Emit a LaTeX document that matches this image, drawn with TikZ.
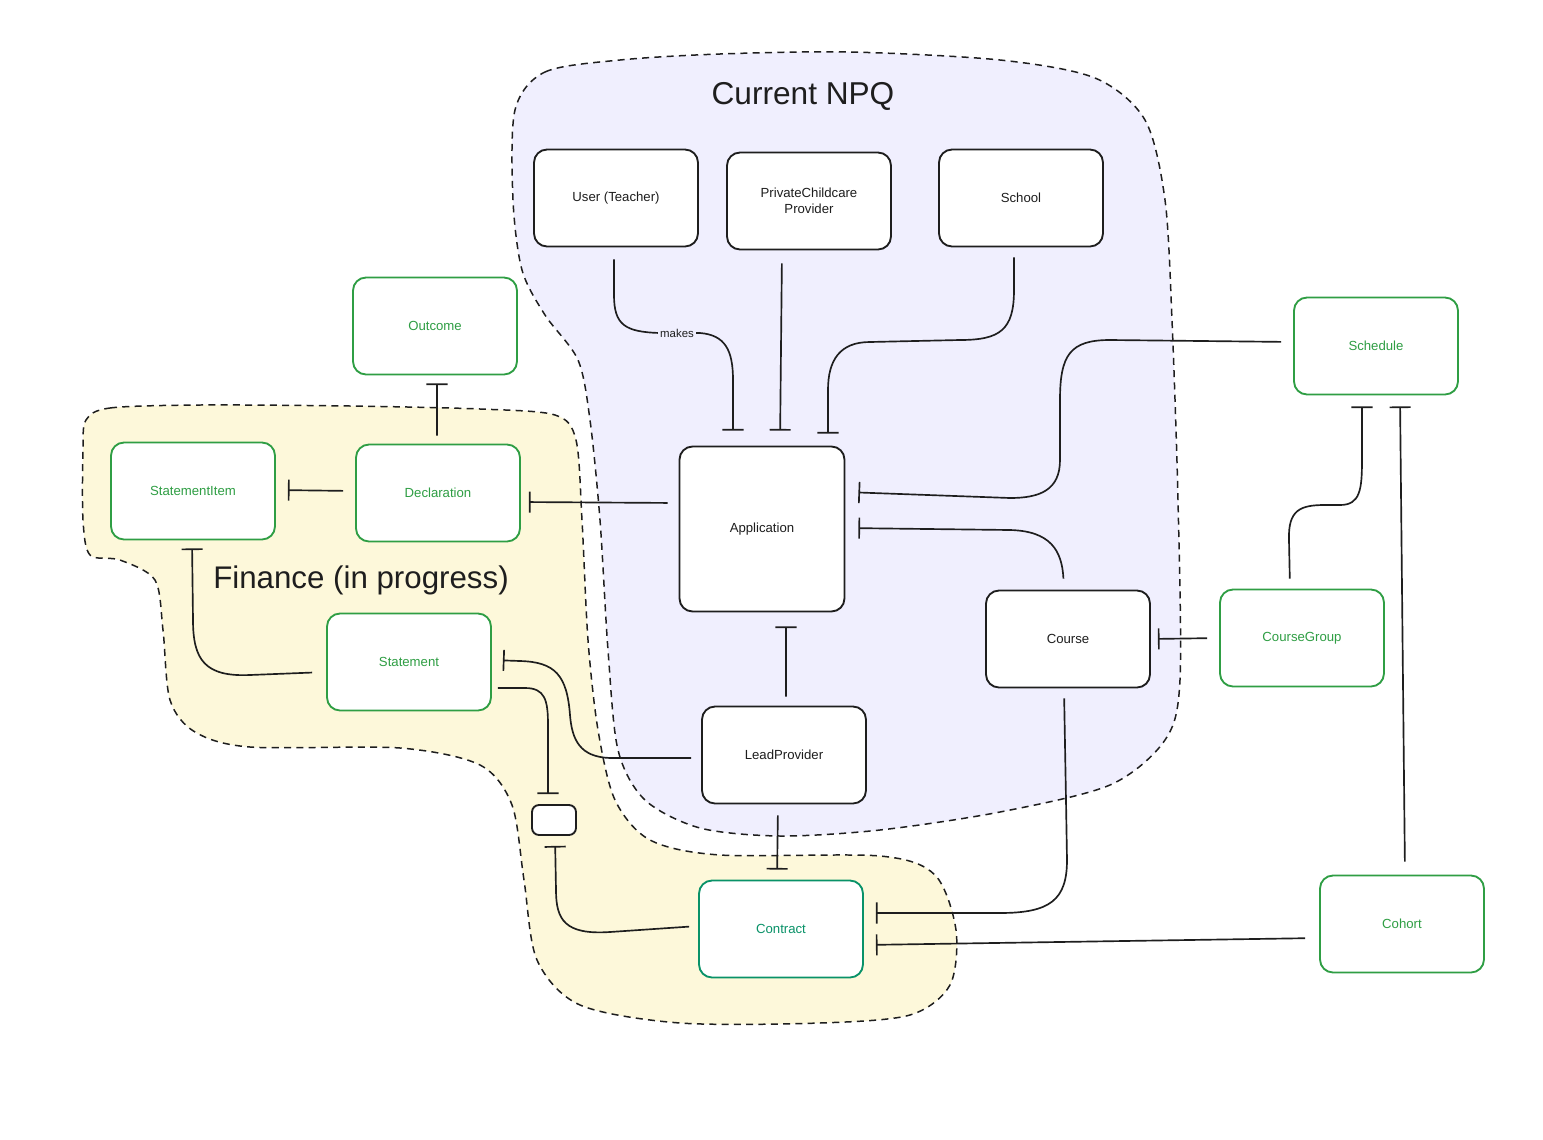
\documentclass[tikz,border=0pt]{standalone}
\usepackage{fontspec}
\setmainfont{Liberation Sans}
\usetikzlibrary{arrows.meta}
\definecolor{ink}{HTML}{1E1E1E}
\definecolor{grn}{HTML}{2F9E44}
\definecolor{teal2}{HTML}{099268}
\definecolor{lav}{HTML}{F0EFFE}
\definecolor{yel}{HTML}{FDF8DA}
\begin{document}
\begin{tikzpicture}[x=0.02cm,y=-0.02cm,
  box/.style={draw=ink, line width=1.05pt, rounded corners=0.26cm, fill=white,
    minimum width=3.28cm, minimum height=1.94cm, align=center,
    font=\fontsize{7.5}{9}\selectfont, text=ink, inner sep=2pt},
  gbox/.style={box, draw=grn, text=grn},
  tbox/.style={box, draw=teal2, text=teal2},
  rel/.style={draw=ink, line width=0.95pt, -{Bar[width=12pt]}},
  region/.style={draw=ink, line width=0.85pt, dash pattern=on 4pt off 3pt}]
\useasboundingbox (0,0) rectangle (1543,1140);
\fill[white] (0,0) rectangle (1543,1140);

% Finance region
\draw[region, fill=yel] plot[smooth cycle, tension=0.5] coordinates {
  (86,420) (110,408) (200,405) (350,406) (480,409) (555,415) (576,440)
  (582,520) (588,640) (598,730) (615,800) (650,840) (720,855) (880,856)
  (935,875) (956,930) (950,985) (910,1015) (820,1023) (680,1023) (580,1005)
  (537,960) (524,880) (512,805) (480,765) (400,748) (250,747) (195,732)
  (170,700) (163,630) (155,580) (120,560) (90,555) (83,520) (83,450)};

% Current NPQ region
\draw[region, fill=lav] plot[smooth cycle, tension=0.5] coordinates {
  (515,110) (545,72) (620,60) (720,54) (850,52) (1000,60) (1095,78)
  (1145,120) (1165,200) (1172,320) (1178,500) (1180,680) (1165,740)
  (1110,785) (1000,812) (880,830) (780,836) (700,828) (645,800) (618,750)
  (608,650) (600,520) (590,420) (578,360) (545,315) (522,270) (513,200)};

\node[font=\fontsize{18}{20}\selectfont, text=ink] (titleA) at (803,96) {Current NPQ};
\node[font=\fontsize{17.8}{20}\selectfont, text=ink] (titleB) at (361,580) {Finance (in progress)};

% boxes
\node[box] (user) at (616,198) {User (Teacher)};
\node[box] (pcp) at (809,201) {PrivateChildcare\\Provider};
\node[box] (school) at (1021,198) {School};
\node[gbox] (outcome) at (435,326) {Outcome};
\node[gbox] (schedule) at (1376,346) {Schedule};
\node[gbox] (stmtitem) at (193,491) {StatementItem};
\node[gbox] (decl) at (438,493) {Declaration};
\node[box, minimum width=3.3cm, minimum height=3.3cm] (app) at (762,529) {Application};
\node[box] (course) at (1068,639) {Course};
\node[gbox] (cgroup) at (1302,638) {CourseGroup};
\node[gbox] (stmt) at (409,662) {Statement};
\node[box] (lead) at (784,755) {LeadProvider};
\node[box, minimum width=0.88cm, minimum height=0.6cm, rounded corners=0.14cm] (small) at (554,820) {};
\node[tbox] (contract) at (781,929) {Contract};
\node[gbox] (cohort) at (1402,924) {Cohort};

% connectors
\draw[rel, shorten <=0.24cm, shorten >=0.3cm] ([xshift=-0.04cm]user.south) -- (614,295)
  .. controls (614,325) and (625,332) .. (660,333) -- (700,333)
  .. controls (725,335) and (733,350) .. (733,380) -- ([xshift=-0.58cm]app.north);
\node[fill=lav, inner sep=1pt, font=\fontsize{6.5}{8}\selectfont, text=ink] (makes) at (677,333) {makes};

\draw[rel, shorten <=0.26cm, shorten >=0.3cm] ([xshift=-0.54cm]pcp.south) -- ([xshift=0.36cm]app.north);

\draw[rel, shorten <=0.2cm, shorten >=0.24cm] ([xshift=-0.14cm]school.south) -- (1014,290)
  .. controls (1014,330) and (1000,340) .. (960,340) -- (870,342)
  .. controls (840,342) and (828,360) .. (828,390) -- ([xshift=1.32cm]app.north);

\draw[rel, shorten <=0.24cm, shorten >=0.26cm] ([yshift=0.08cm]schedule.west) -- (1110,340)
  .. controls (1070,340) and (1060,355) .. (1060,400) -- (1060,460)
  .. controls (1060,490) and (1040,498) .. (1010,498) -- ([yshift=0.74cm]app.east);

\draw[rel, shorten <=0.22cm, shorten >=0.26cm] ([xshift=-0.08cm]course.north)
  .. controls (1062,550) and (1050,531) .. (1010,530) -- ([yshift=0.02cm]app.east);

\draw[rel, shorten <=0.24cm, shorten >=0.14cm] (cgroup.west) -- (course.east);

\draw[rel, shorten <=0.2cm, shorten >=0.22cm] ([xshift=-0.24cm]cgroup.north) -- (1289,540)
  .. controls (1288,510) and (1300,505) .. (1325,505) -- (1340,505)
  .. controls (1360,505) and (1362,490) .. (1362,460) -- ([xshift=-0.28cm]schedule.south);

\draw[rel, shorten <=0.26cm, shorten >=0.22cm] ([xshift=0.06cm]cohort.north) -- ([xshift=0.48cm]schedule.south);

\draw[rel, shorten <=0.28cm, shorten >=0.24cm] ([yshift=-0.28cm]cohort.west) -- ([yshift=-0.32cm]contract.east);

\draw[rel, shorten <=0.2cm, shorten >=0.24cm] ([xshift=-0.08cm]course.south) -- (1066,800) -- (1067,860)
  .. controls (1067,900) and (1050,913) .. (1000,913) -- ([yshift=0.32cm]contract.east);

\draw[rel, shorten <=0.18cm, shorten >=0.28cm] ([xshift=0.04cm]lead.north) -- ([xshift=0.48cm]app.south);

\draw[rel, shorten <=0.22cm, shorten >=0.2cm] ([xshift=-0.12cm]lead.south) -- ([xshift=-0.08cm]contract.north);

\draw[rel, shorten <=0.2cm, shorten >=0.22cm] ([yshift=-0.06cm]lead.west) -- (610,758)
  .. controls (580,757) and (572,740) .. (570,715)
  .. controls (567,675) and (555,662) .. (520,661) -- ([yshift=0.04cm]stmt.east);

\draw[rel, shorten <=0.12cm, shorten >=0.2cm] ([yshift=-0.52cm]stmt.east) -- (525,688)
  .. controls (545,688) and (548,700) .. (548,725) -- ([xshift=-0.12cm]small.north);

\draw[rel, shorten <=0.18cm, shorten >=0.2cm] ([yshift=0.06cm]contract.west) -- (610,932)
  .. controls (565,935) and (556,920) .. (556,890) -- ([xshift=0.02cm]small.south);

\draw[rel, shorten <=0.28cm, shorten >=0.16cm] ([yshift=-0.2cm]stmt.west) -- (250,675)
  .. controls (205,677) and (193,660) .. (193,620) -- ([xshift=-0.02cm]stmtitem.south);

\draw[rel, shorten <=0.24cm, shorten >=0.24cm] ([yshift=0.04cm]decl.west) -- ([yshift=0.02cm]stmtitem.east);

\draw[rel, shorten <=0.16cm, shorten >=0.16cm] ([xshift=-0.02cm]decl.north) -- ([xshift=0.04cm]outcome.south);

\draw[rel, shorten <=0.22cm, shorten >=0.16cm] ([yshift=0.52cm]app.west) -- ([yshift=-0.18cm]decl.east);
\end{tikzpicture}
\end{document}
